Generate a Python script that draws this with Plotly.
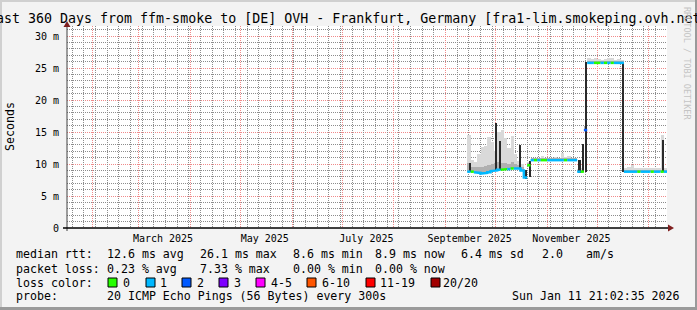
import plotly.graph_objects as go
import pandas as pd

# ---------------- data ----------------
range_start = "2025-01-16 21:02:35"
range_end = "2026-01-11 21:02:35"

# 2-day bins starting 2025-09-14
bin_start = pd.date_range("2025-09-14", periods=60, freq="2D")

median_ms = [8.8, 8.8, 8.7, 8.6, 8.5, 8.6, 8.7, 8.9, 9.0, 9.1,
             9.1, 9.2, 9.2, 9.3, 9.3, 9.3, 9.0, 7.9, 9.8, 10.6,
             10.6, 10.6, 10.6, 10.6, 10.6, 10.6, 10.6, 10.6, 10.6, 10.6,
             10.6, 10.6, 10.6, 8.8, 8.8, 15.3, 25.8, 25.8, 25.8, 25.8,
             25.8, 25.8, 25.8, 25.8, 25.8, 25.8, 25.8, 8.8, 8.8, 8.8,
             8.8, 8.8, 8.8, 8.8, 8.8, 8.8, 8.8, 8.8, 8.8, 8.8]

loss_cnt = [1, 0, 1, 1, 1, 1, 1, 1, 1, 1,
            0, 0, 1, 0, 1, 1, 1, 1, 0, 1,
            0, 1, 0, 0, 1, 1, 1, 1, 1, 0,
            1, 1, 1, 1, 0, 2, 1, 1, 0, 0,
            1, 0, 1, 0, 1, 1, 1, 1, 1, 1,
            1, 0, 1, 1, 1, 0, 1, 1, 0, 1]

smoke_hi = [14.5, 10.6, 10.3, 11.5, 12.6, 12.8, 14.2, 13.5, 12.0, 15.0,
            15.3, 14.0, 12.5, 14.3, 11.5, 10.5, 10.0, 8.6, 10.3, 11.0,
            11.0, 11.0, 11.2, 11.0, 11.0, 11.0, 11.1, 11.0, 11.7, 11.1,
            11.2, 11.0, 11.0, 9.2, 9.3, 16.0, 26.5, 26.4, 26.5, 26.4,
            26.3, 26.4, 26.5, 26.6, 26.3, 26.4, 26.2, 9.4, 9.5, 9.9,
            9.4, 9.4, 9.4, 9.3, 9.4, 9.4, 9.4, 9.3, 14.5, 9.4]

smoke_mid = [10.1, 9.6, 9.5, 9.6, 9.6, 9.7, 9.9, 10.0, 10.2, 10.3,
             10.2, 10.2, 10.0, 10.3, 10.0, 9.9, 9.6, 8.3, 10.1, 10.9,
             10.9, 10.9, 10.9, 10.9, 10.9, 10.9, 10.9, 10.9, 10.9, 10.9,
             10.9, 10.9, 10.9, 9.1, 9.1, 16.0, 26.1, 26.1, 26.1, 26.1,
             26.1, 26.1, 26.1, 26.1, 26.1, 26.1, 26.1, 9.1, 9.1, 9.1,
             9.1, 9.1, 9.1, 9.1, 9.1, 9.1, 9.1, 9.1, 9.1, 9.1]

dark_lo = [8.8, None, None, None, None, None, None, None, 9.0, 9.1,
           None, None, None, None, None, 9.3, None, 7.6, 8.0, None,
           None, None, None, None, None, None, None, None, None, None,
           None, None, None, 8.6, 8.8, 8.8, None, None, None, None,
           None, None, None, None, None, None, 8.8, None, None, None,
           None, None, None, None, None, None, None, None, 8.8, None]
dark_hi = [10.1, None, None, None, None, None, None, None, 16.4, 13.6,
           None, None, None, None, None, 13.0, None, 9.0, 10.4, None,
           None, None, None, None, None, None, None, None, None, None,
           None, None, None, 10.6, 13.1, 26.0, None, None, None, None,
           None, None, None, None, None, None, 25.8, None, None, None,
           None, None, None, None, None, None, None, None, 13.8, None]

y_ticks = [0, 5, 10, 15, 20, 25, 30]
y_ticktext = ["0", "5 m", "10 m", "15 m", "20 m", "25 m", "30 m"]
x_label_dates = ["2025-03-15 12:00", "2025-05-15 12:00", "2025-07-15 12:00",
                 "2025-09-15 12:00", "2025-11-15 12:00"]
x_label_text = ["March 2025", "May 2025", "July 2025", "September 2025", "November 2025"]

loss_labels = ["0", "1", "2", "3", "4-5", "6-10", "11-19", "20/20"]
loss_colors = ["#26ff00", "#00b8ff", "#0059ff", "#7e00ff", "#ff00ff", "#ff5500", "#ff0000", "#a10000"]

title = "Last 360 Days from ffm-smoke to [DE] OVH - Frankfurt, Germany [fra1-lim.smokeping.ovh.net]"
rtt_items = ["12.6 ms avg", "26.1 ms max", "8.6 ms min", "8.9 ms now", "6.4 ms sd", "2.0", "am/s"]
loss_items = ["0.23 % avg", "7.33 % max", "0.00 % min", "0.00 % now"]
probe_text = "20 ICMP Echo Pings (56 Bytes) every 300s"
stamp_text = "Sun Jan 11 21:02:35 2026"

# ---------------- layout geometry ----------------
W, H = 697, 310
L, R, T, B = 67, 667, 26, 228
YMAX = 31.5625
DAY = 86400000
MONO = "DejaVu Sans Mono"


def px(x):
    return (x - L) / (R - L)


def py(y):
    return (B - y) / (B - T)


fig = go.Figure()

# smoke
fig.add_trace(go.Bar(x=bin_start, y=[h - m for h, m in zip(smoke_hi, median_ms)], base=median_ms,
                     width=2 * DAY, offset=0, marker=dict(color="#d9d9d9", line=dict(width=0)),
                     hoverinfo="skip", showlegend=False))
fig.add_trace(go.Bar(x=bin_start, y=[h - m for h, m in zip(smoke_mid, median_ms)], base=median_ms,
                     width=2 * DAY, offset=0, marker=dict(color="#b0b0b0", line=dict(width=0)),
                     hoverinfo="skip", showlegend=False))

# median line coloured by loss (no vertical joins across big jumps)
for c in sorted(set(loss_cnt)):
    xs, ys = [], []
    prev = None
    for i, (d, m, lc) in enumerate(zip(bin_start, median_ms, loss_cnt)):
        if lc == c:
            if prev is not None and (prev != i - 1 or abs(median_ms[prev] - m) > 1.5):
                xs.append(None)
                ys.append(None)
            xs += [d, d + pd.Timedelta(days=2)]
            ys += [m, m]
            prev = i
    fig.add_trace(go.Scatter(x=xs, y=ys, mode="lines", line=dict(color=loss_colors[c], width=2.5),
                             connectgaps=False, hoverinfo="skip", showlegend=False))

# dark smoke columns
dk_x = [d for d, lo in zip(bin_start, dark_lo) if lo is not None]
dk_lo = [lo for lo in dark_lo if lo is not None]
dk_hi = [hi for hi in dark_hi if hi is not None]
fig.add_trace(go.Bar(x=dk_x, y=[h - l for h, l in zip(dk_hi, dk_lo)], base=dk_lo,
                     width=1.2 * DAY, offset=0.8 * DAY, marker=dict(color="#2a2a2a", line=dict(width=0)),
                     hoverinfo="skip", showlegend=False))

shapes = []
# borders
shapes.append(dict(type="rect", xref="paper", yref="paper", x0=px(0), x1=px(W), y0=py(0), y1=py(2),
                   fillcolor="#d0d0d0", line=dict(width=0), layer="above"))
shapes.append(dict(type="rect", xref="paper", yref="paper", x0=px(0), x1=px(2), y0=py(0), y1=py(H),
                   fillcolor="#d0d0d0", line=dict(width=0), layer="above"))
shapes.append(dict(type="rect", xref="paper", yref="paper", x0=px(W - 2), x1=px(W), y0=py(0), y1=py(H),
                   fillcolor="#9a9a9a", line=dict(width=0), layer="above"))
shapes.append(dict(type="rect", xref="paper", yref="paper", x0=px(0), x1=px(W), y0=py(H - 3), y1=py(H),
                   fillcolor="#9a9a9a", line=dict(width=0), layer="above"))
# axes
shapes.append(dict(type="line", xref="paper", yref="paper", x0=px(L), x1=px(L), y0=py(B + 3), y1=py(24),
                   line=dict(color="#404040", width=1), layer="above"))
shapes.append(dict(type="line", xref="paper", yref="paper", x0=px(L - 4), x1=px(670), y0=py(B), y1=py(B),
                   line=dict(color="#000000", width=1.5), layer="above"))


def tri(pts):
    return "M " + " L ".join(f"{px(a)},{py(b)}" for a, b in pts) + " Z"


shapes.append(dict(type="path", xref="paper", yref="paper", path=tri([(63.5, 27), (70.5, 27), (67, 21)]),
                   fillcolor="#7f1f1f", line=dict(width=0), layer="above"))
shapes.append(dict(type="path", xref="paper", yref="paper", path=tri([(668, 224.5), (668, 231.5), (674, 228)]),
                   fillcolor="#7f1f1f", line=dict(width=0), layer="above"))

annotations = []


def ann(text, x, y, size=11.6, anchor="left", color="#000000", angle=0, family=MONO):
    annotations.append(dict(text=text, x=px(x), y=py(y), xref="paper", yref="paper", showarrow=False,
                            xanchor=anchor, yanchor="middle", textangle=angle, borderpad=0, borderwidth=0,
                            font=dict(family=family, size=size, color=color)))


ann(title, 348.5, 18.5, size=13.3, anchor="center")
ann("Seconds", 10, 127, size=11.6, anchor="center", angle=-90)
ann("RRDTOOL / TOBI OETIKER", 687, 63, size=8.5, anchor="center", angle=90, color="#c4c4c4")

row_y = [254.5, 268.5, 282.5, 296]
ann("median rtt:", 16, row_y[0])
for t, x in zip(rtt_items, [107, 200, 293, 375, 461, 542, 586]):
    ann(t, x, row_y[0])
ann("packet loss:", 16, row_y[1])
for t, x in zip(loss_items, [107, 200, 293, 375]):
    ann(t, x, row_y[1])
ann("loss color:", 16, row_y[2])
box_x = [108, 146, 182, 219, 256, 307, 366, 431]
lab_x = [123, 160, 197, 234, 271, 322, 380, 443]
for lab, col, bx, lx in zip(loss_labels, loss_colors, box_x, lab_x):
    shapes.append(dict(type="rect", xref="paper", yref="paper", x0=px(bx), x1=px(bx + 9),
                       y0=py(row_y[2] - 4.5), y1=py(row_y[2] + 4.5), fillcolor=col,
                       line=dict(color="#000000", width=1), layer="above"))
    ann(lab, lx, row_y[2])
ann("probe:", 16, row_y[3])
ann(probe_text, 107, row_y[3])
ann(stamp_text, 680, row_y[3], anchor="right")

red = "#f08a8a"
gray = "#8c8c8c"
DASH = "1px,1px"

fig.update_layout(
    width=W, height=H, autosize=False,
    margin=dict(l=L, r=W - R, t=T, b=H - B, pad=0),
    paper_bgcolor="#f3f3f3", plot_bgcolor="#ffffff",
    barmode="overlay", bargap=0,
    showlegend=False,
    shapes=shapes, annotations=annotations,
    xaxis=dict(type="date", range=[range_start, range_end], tickmode="array",
               tickvals=x_label_dates, ticktext=x_label_text, showgrid=False, zeroline=False,
               showline=False, ticks="", ticklabelstandoff=3,
               tickfont=dict(family=MONO, size=10, color="#000000"), fixedrange=True),
    xaxis2=dict(type="date", overlaying="x", matches="x", anchor="y", range=[range_start, range_end],
                dtick=7 * DAY, tick0="2025-01-20", showgrid=True, gridcolor=gray, griddash=DASH,
                gridwidth=1, showticklabels=False, ticks="", zeroline=False, showline=False),
    xaxis3=dict(type="date", overlaying="x", matches="x", anchor="y", range=[range_start, range_end],
                dtick="M1", tick0="2025-01-01", showgrid=True, gridcolor=red, griddash=DASH,
                gridwidth=1, showticklabels=False, ticks="", zeroline=False, showline=False),
    yaxis=dict(range=[0, YMAX], tickmode="array", tickvals=y_ticks, ticktext=y_ticktext,
               showgrid=True, gridcolor=red, griddash=DASH, gridwidth=1, zeroline=False,
               showline=False, ticks="", ticklabelstandoff=7,
               minor=dict(dtick=1, tick0=0, showgrid=True, gridcolor=gray, griddash=DASH, gridwidth=1),
               tickfont=dict(family=MONO, size=10, color="#000000"), fixedrange=True),
)

# dummy traces to activate overlay axes
fig.add_trace(go.Scatter(x=[range_start], y=[None], xaxis="x2", yaxis="y", showlegend=False, hoverinfo="skip"))
fig.add_trace(go.Scatter(x=[range_start], y=[None], xaxis="x3", yaxis="y", showlegend=False, hoverinfo="skip"))

fig.write_html("out.html")
